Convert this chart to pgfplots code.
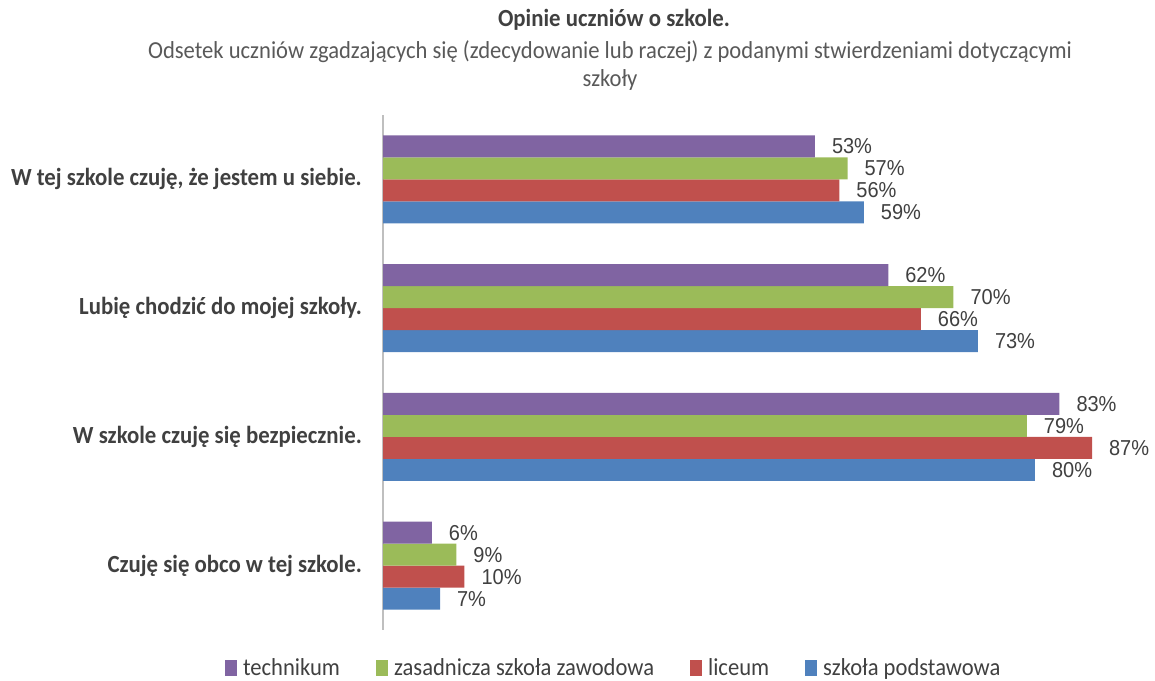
\documentclass[border=0pt]{standalone}
\usepackage{pgfplots}
\pgfplotsset{compat=1.18}
\usepackage{fontspec}
\usepackage{graphicx}
\setmainfont{Carlito}
\newfontfamily\arialf{Liberation Sans}
\definecolor{cpurple}{HTML}{8064A2}
\definecolor{cgreen}{HTML}{9BBB59}
\definecolor{cred}{HTML}{C0504D}
\definecolor{cblue}{HTML}{4F81BD}
\definecolor{ctext}{HTML}{404040}
\definecolor{csub}{HTML}{595959}
\definecolor{caxis}{HTML}{BFBFBF}
\newcommand{\vs}[1]{\scalebox{1}[1.08]{#1}}
\begin{document}
\begin{tikzpicture}
\useasboundingbox (0,0) rectangle (577.5pt,340pt);
\node[font=\bfseries\fontsize{11.4}{13}\selectfont, text=ctext] at (307pt,330pt) {\vs{Opinie uczniów o szkole.}};
\node[font=\fontsize{11.3}{13}\selectfont, text=csub] at (305pt,314pt) {\vs{Odsetek uczniów zgadzających się (zdecydowanie lub raczej) z podanymi stwierdzeniami dotyczącymi}};
\node[font=\fontsize{11.3}{13}\selectfont, text=csub] at (305pt,300pt) {\vs{szkoły}};
\begin{axis}[
  at={(191.5pt,25pt)}, anchor=south west,
  scale only axis, width=366.75pt, height=257.5pt,
  xmin=0, xmax=90, ymin=-0.5, ymax=3.5,
  y dir=reverse,
  xbar=0pt, bar width=11pt,
  axis lines*=left,
  x axis line style={draw=none},
  y axis line style={draw=caxis, line width=0.6pt},
  xtick=\empty,
  ytick={0,1,2,3},
  major tick length=0pt,
  yticklabels={{\vs{W tej szkole czuję, że jestem u siebie.}},{\vs{Lubię chodzić do mojej szkoły.}},{\vs{W szkole czuję się bezpiecznie.}},{\vs{Czuję się obco w tej szkole.}}},
  yticklabel style={font=\bfseries\fontsize{11.4}{13}\selectfont, text=ctext, xshift=-7pt},
  /pgf/number format/assume math mode=true,
  nodes near coords={\vs{\pgfmathprintnumber{\pgfplotspointmeta}\%}},
  nodes near coords align={horizontal},
  every node near coord/.append style={anchor=west, xshift=5pt, font=\arialf\fontsize{10}{12}\selectfont, text=ctext},
  reverse legend,
  legend style={at={(rel axis cs:0.316,-0.074)}, anchor=center, draw=none, fill=none, legend columns=4,
    font=\fontsize{11.3}{13}\selectfont, text=ctext,
    /tikz/every odd column/.append style={column sep=1pt},
    /tikz/every even column/.append style={column sep=16pt}},
  legend image code/.code={\fill[#1] (0pt,-4pt) rectangle (6pt,4pt);},
  clip=false,
]
\addplot[fill=cblue, draw=none] coordinates {(59,0) (73,1) (80,2) (7,3)};
\addplot[fill=cred, draw=none] coordinates {(56,0) (66,1) (87,2) (10,3)};
\addplot[fill=cgreen, draw=none] coordinates {(57,0) (70,1) (79,2) (9,3)};
\addplot[fill=cpurple, draw=none] coordinates {(53,0) (62,1) (83,2) (6,3)};
\legend{\vs{szkoła podstawowa},\vs{liceum},\vs{zasadnicza szkoła zawodowa},\vs{technikum}}
\end{axis}
\end{tikzpicture}
\end{document}
